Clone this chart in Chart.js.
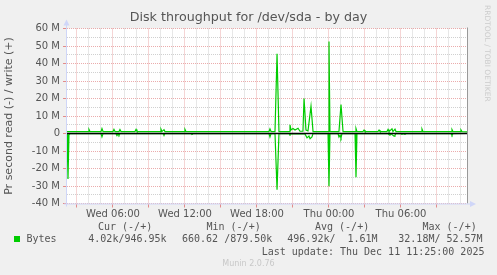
<!DOCTYPE html>
<html>
<head>
<meta charset="utf-8">
<script src="https://cdn.jsdelivr.net/npm/chart.js@4/dist/chart.umd.min.js"></script>
<style>
  html, body { margin: 0; padding: 0; background: #f0f0f0; }
  #wrap { position: relative; width: 497px; height: 275px; overflow: hidden; background: #f0f0f0; }
  canvas { position: absolute; left: 0; top: 0; }
  .t { position: absolute; font: 10px 'DejaVu Sans Mono', monospace; line-height: 12px; color: #555; white-space: pre; }
  #title { position: absolute; left: 0; top: 9px; width: 497px; text-align: center; font: 12.7px 'DejaVu Sans', sans-serif; line-height: 15px; color: #555; }
  #sw { position: absolute; left: 14px; top: 236px; width: 6px; height: 6px; background: #00cc00; }
  #munin { position: absolute; left: 0; width: 497px; top: 259px; text-align: center; font: 8px 'DejaVu Sans', sans-serif; line-height: 10px; color: #c8c8c8; }
  #rrd { position: absolute; left: 483px; top: 5px; writing-mode: vertical-rl; font: 7.5px 'DejaVu Sans', sans-serif; color: #cccccc; line-height: 9px; }
</style>
</head>
<body>
<div id="wrap">
  <canvas id="c" width="497" height="275"></canvas>
  <div id="title"></div>
  <div id="rrd">RRDTOOL / TOBI OETIKER</div>
  <div class="t" style="left:98px; top:221px;">Cur (-/+)</div>
  <div class="t" style="left:206.5px; top:221px;">Min (-/+)</div>
  <div class="t" style="left:315px; top:221px;">Avg (-/+)</div>
  <div class="t" style="left:422.5px; top:221px;">Max (-/+)</div>
  <div id="sw"></div>
  <div class="t" style="left:26.5px; top:233px;">Bytes</div>
  <div class="t" style="left:88.3px; top:233px;">4.02k/946.95k</div>
  <div class="t" style="left:182px; top:233px;">660.62 /879.50k</div>
  <div class="t" style="left:287.3px; top:233px;">496.92k/  1.61M</div>
  <div class="t" style="left:398.3px; top:233px;">32.18M/ 52.57M</div>
  <div class="t" style="left:261.7px; top:245.5px;">Last update: Thu Dec 11 11:25:00 2025</div>
  <div id="munin">Munin 2.0.76</div>
</div>
<script>
// ---- data (time in hours since Wed 00:00, values in MB/s) ----
const title = 'Disk throughput for /dev/sda - by day';
const yAxisTitle = 'Pr second read (-) / write (+)';
const tickHours = [6, 12, 18, 24, 30];
const tickLabels = ['Wed 06:00', 'Wed 12:00', 'Wed 18:00', 'Thu 00:00', 'Thu 06:00'];
const xStart = 2.1667;
const xEnd = 35.5;

const writeTimes = [2.17, 3.92, 4.0, 4.08, 5.0, 5.08, 5.17, 6.0, 6.08, 6.17, 6.5, 6.58, 6.67,
  7.83, 7.92, 8.0, 9.92, 10.0, 10.08, 10.25, 10.33, 11.92, 12.0, 12.08,
  19.0, 19.08, 19.17, 19.5, 19.67, 19.83, 20.67, 20.75, 20.83, 21.0, 21.17, 21.42, 21.58,
  21.83, 21.92, 22.08, 22.25, 22.5, 22.67, 23.92, 24.0, 24.08, 24.83, 25.0, 25.17,
  26.17, 26.25, 26.33, 26.83, 26.92, 27.0, 28.08, 28.17, 28.25,
  28.83, 28.92, 29.0, 29.25, 29.33, 29.5, 29.58, 31.67, 31.75, 31.83,
  34.17, 34.25, 34.33, 34.92, 35.0, 35.08, 35.5];
const writeValues = [1.1, 1.1, 2.3, 1.1, 1.1, 2.8, 1.1, 1.1, 2.3, 1.1, 1.1, 2.2, 1.1,
  1.1, 2.3, 1.1, 1.1, 2.4, 1.1, 2.2, 1.1, 1.1, 2.3, 1.1,
  1.1, 2.6, 1.1, 1.1, 45.5, 1.1, 1.1, 5.0, 2.0, 2.9, 2.0, 3.0, 1.3,
  1.3, 20.0, 2.0, 1.5, 15.6, 1.1, 1.1, 52.6, 1.1, 1.1, 16.6, 1.1,
  1.1, 2.9, 1.1, 1.1, 2.0, 1.1, 1.1, 2.0, 1.1,
  1.1, 2.3, 1.1, 2.7, 1.1, 2.5, 1.1, 1.1, 2.5, 1.1,
  1.1, 2.2, 1.1, 1.1, 2.0, 1.1, 0.95];

const readTimes = [2.17, 2.25, 2.33, 2.42, 5.0, 5.08, 5.17, 6.25, 6.33, 6.42, 6.5, 6.58,
  10.17, 10.25, 10.33, 12.5, 12.58, 12.67, 19.0, 19.08, 19.17, 19.5, 19.67, 19.83,
  20.67, 20.75, 20.83, 22.0, 22.17, 22.33, 22.42, 22.58, 22.67,
  23.92, 24.0, 24.08, 24.75, 24.83, 24.92, 25.0, 25.08, 26.17, 26.25, 26.33,
  28.92, 29.08, 29.17, 29.42, 29.5, 29.58, 30.0, 30.08, 30.17, 30.33, 30.42,
  34.17, 34.25, 34.33, 35.5];
const readValues = [-0.1, -26.0, -0.8, -0.1, -0.1, -1.9, -0.1, -0.1, -1.2, -0.3, -1.0, -0.1,
  -0.1, -0.8, -0.1, -0.1, -0.6, -0.1, -0.1, -2.0, -0.1, -0.1, -32.2, -0.1,
  -0.1, -0.7, -0.1, -0.3, -2.5, -1.5, -3.0, -2.0, -0.1,
  -0.1, -30.1, -0.1, -0.1, -2.0, -1.0, -2.5, -0.1, -0.1, -25.0, -0.1,
  -0.1, -1.0, -0.2, -1.5, -0.8, -0.1, -0.1, -0.5, -0.1, -0.5, -0.1,
  -0.1, -1.0, -0.1, -0.004];

const GREEN = '#00cc00';
const MAJOR = 'rgba(224,128,128,0.65)';
const MINOR = 'rgba(192,192,192,0.75)';
const AXIS = '#cfd6f8';
const FONT = "'DejaVu Sans', sans-serif";

document.getElementById('title').textContent = title;

const pts = (t, v) => t.map((x, i) => ({ x: x, y: v[i] }));

const munin = {
  id: 'munin',
  beforeDraw(chart) {
    const a = chart.chartArea, ctx = chart.ctx;
    ctx.save();
    ctx.fillStyle = '#ffffff';
    ctx.fillRect(a.left, a.top, a.right - a.left, a.bottom - a.top);
    ctx.restore();
  },
  afterDatasetsDraw(chart) {
    const a = chart.chartArea, ctx = chart.ctx;
    const y0 = chart.scales.y.getPixelForValue(0);
    ctx.save();
    ctx.strokeStyle = '#000000';
    ctx.lineWidth = 1.6;
    ctx.beginPath(); ctx.moveTo(a.left, y0); ctx.lineTo(a.right, y0); ctx.stroke();
    // right frame line
    ctx.strokeStyle = '#999999';
    ctx.lineWidth = 1;
    ctx.beginPath(); ctx.moveTo(a.right + 0.5, a.top - 1); ctx.lineTo(a.right + 0.5, a.bottom); ctx.stroke();
    // axes with arrows
    ctx.strokeStyle = AXIS; ctx.fillStyle = AXIS;
    const lx = a.left - 0.5, by = a.bottom + 0.5;
    ctx.beginPath(); ctx.moveTo(lx, a.bottom + 3); ctx.lineTo(lx, a.top - 5); ctx.stroke();
    ctx.beginPath(); ctx.moveTo(a.left - 3, by); ctx.lineTo(a.right + 5, by); ctx.stroke();
    ctx.beginPath(); ctx.moveTo(lx - 3, a.top - 3); ctx.lineTo(lx + 3, a.top - 3); ctx.lineTo(lx, a.top - 9); ctx.closePath(); ctx.fill();
    ctx.beginPath(); ctx.moveTo(a.right + 3, by - 3); ctx.lineTo(a.right + 3, by + 3); ctx.lineTo(a.right + 9, by); ctx.closePath(); ctx.fill();
    ctx.restore();
  }
};

new Chart(document.getElementById('c'), {
  type: 'line',
  data: {
    datasets: [
      { label: 'Bytes', data: pts(writeTimes, writeValues), borderColor: GREEN, borderWidth: 1.2, pointRadius: 0, tension: 0, fill: false },
      { label: 'Bytes', data: pts(readTimes, readValues), borderColor: GREEN, borderWidth: 1.2, pointRadius: 0, tension: 0, fill: false }
    ]
  },
  options: {
    responsive: false,
    animation: false,
    devicePixelRatio: 1,
    layout: { padding: { left: 0, right: 30, top: 28.5, bottom: 0 } },
    plugins: {
      legend: { display: false },
      tooltip: { enabled: false },
      title: { display: false }
    },
    scales: {
      x: {
        type: 'linear', min: xStart, max: xEnd,
        afterFit(s) { s.height = 71.5; },
        afterBuildTicks(s) {
          const arr = [];
          for (let h = 3; h <= 35; h++) arr.push({ value: h });
          s.ticks = arr;
        },
        ticks: {
          autoSkip: false, maxRotation: 0, padding: 1, color: '#555',
          font: { family: FONT, size: 10 },
          callback(v) { const i = tickHours.indexOf(v); return i >= 0 ? tickLabels[i] : ''; }
        },
        grid: {
          color: (c) => (c.tick && c.tick.value % 3 === 0) ? MAJOR : MINOR,
          tickColor: (c) => (c.tick && c.tick.value % 3 === 0) ? 'rgba(224,128,128,0.9)' : 'rgba(0,0,0,0)',
          tickLength: 4, lineWidth: 1
        },
        border: { display: false, dash: [1, 1] }
      },
      y: {
        min: -40, max: 60,
        afterFit(s) { s.width = 67; },
        afterBuildTicks(s) {
          const arr = [];
          for (let v = -40; v <= 60; v += 5) arr.push({ value: v });
          s.ticks = arr;
        },
        ticks: {
          autoSkip: false, padding: 3, color: '#555',
          font: { family: FONT, size: 10 },
          callback(v) { if (v % 10 !== 0) return ''; return v === 0 ? '0' : v + ' M'; }
        },
        grid: {
          color: (c) => (c.tick && c.tick.value % 10 === 0) ? MAJOR : MINOR,
          tickColor: (c) => (c.tick && c.tick.value % 10 === 0) ? 'rgba(224,128,128,0.9)' : 'rgba(0,0,0,0)',
          tickLength: 4, lineWidth: 1
        },
        border: { display: false, dash: [1, 1] },
        title: { display: true, text: yAxisTitle, color: '#555', font: { family: FONT, size: 11 }, padding: { top: 3, bottom: 0 } }
      }
    }
  },
  plugins: [munin]
});
</script>
</body>
</html>
